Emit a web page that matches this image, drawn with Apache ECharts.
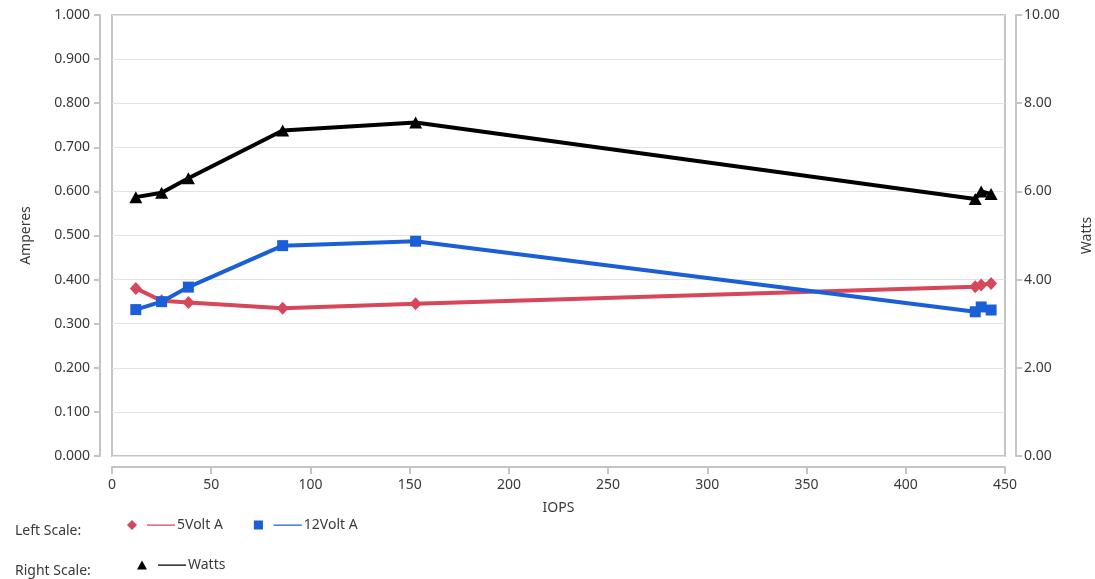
<!DOCTYPE html>
<html>
<head>
<meta charset="utf-8">
<script src="https://cdn.jsdelivr.net/npm/echarts@6/dist/echarts.min.js"></script>
<style>
html,body{margin:0;padding:0;background:#fff;}
#chart{width:1095px;height:579px;}
</style>
</head>
<body>
<div id="chart"></div>
<script>
// IOPS values (shared x)
const iops = [12, 25, 38.5, 86, 153, 435, 438, 443];
const volt5A = [0.380, 0.352, 0.348, 0.335, 0.345, 0.384, 0.388, 0.391];
const volt12A = [0.332, 0.350, 0.383, 0.477, 0.487, 0.327, 0.338, 0.331];
const watts = [5.87, 5.97, 6.30, 7.38, 7.56, 5.83, 6.00, 5.94];

const leftTicks = { min: 0, max: 1, interval: 0.1 };
const rightTicks = { min: 0, max: 10, interval: 2 };
const xTicks = { min: 0, max: 450, interval: 50 };

const pairs = (ys) => iops.map((x, i) => [x, ys[i]]);

const RED = '#d7475a', BLUE = '#1b5fd8', BLACK = '#000000';
const AXIS = '#c4c4c4', GRID = '#e2e2e2', TXT = '#3a3a3a';
const FONT = 'Noto Sans';

const diamondIcon = 'path://M5 0L10 5L5 10L0 5Z M20 4.5L48 4.5L48 5.7L20 5.7Z';
const squareIcon = 'path://M0.5 0.5L9.5 0.5L9.5 9.5L0.5 9.5Z M20 4.5L48 4.5L48 5.7L20 5.7Z';
const triIcon = 'path://M5 0.5L10 9.5L0 9.5Z M21 4.5L49 4.5L49 5.7L21 5.7Z';

const chart = echarts.init(document.getElementById('chart'));
chart.setOption({
  animation: false,
  textStyle: { fontFamily: FONT },
  grid: { left: 112, right: 90, top: 15, bottom: 123, outerBoundsMode: 'none', containLabel: false,
          show: true, borderColor: AXIS, borderWidth: 2, backgroundColor: 'transparent' },
  xAxis: {
    type: 'value', min: xTicks.min, max: xTicks.max, interval: xTicks.interval,
    offset: 11,
    name: 'IOPS', nameLocation: 'middle', nameGap: 34,
    nameTextStyle: { color: TXT, fontSize: 14, fontFamily: FONT },
    axisLine: { show: true, onZero: false, lineStyle: { color: AXIS, width: 2 } },
    axisTick: { show: true, length: 7, lineStyle: { color: AXIS, width: 2 } },
    axisLabel: { color: TXT, fontSize: 14, margin: 11, fontFamily: FONT },
    splitLine: { show: false }
  },
  yAxis: [
    {
      type: 'value', min: leftTicks.min, max: leftTicks.max, interval: leftTicks.interval,
      position: 'left', offset: 12,
      name: 'Amperes', nameLocation: 'middle', nameGap: 67, nameRotate: 90,
      nameTextStyle: { color: TXT, fontSize: 14, fontFamily: FONT },
      axisLine: { show: true, onZero: false, lineStyle: { color: AXIS, width: 2 } },
      axisTick: { show: true, length: 6, lineStyle: { color: AXIS, width: 2 } },
      axisLabel: { color: TXT, fontSize: 14, margin: 10, fontFamily: FONT, formatter: v => v.toFixed(3) },
      splitLine: { show: true, lineStyle: { color: GRID, width: 1.2 } }
    },
    {
      type: 'value', min: rightTicks.min, max: rightTicks.max, interval: rightTicks.interval,
      position: 'right', offset: 11,
      name: 'Watts', nameLocation: 'middle', nameGap: 64, nameRotate: 90,
      nameTextStyle: { color: TXT, fontSize: 14, fontFamily: FONT },
      axisLine: { show: true, onZero: false, lineStyle: { color: AXIS, width: 2 } },
      axisTick: { show: true, length: 6, lineStyle: { color: AXIS, width: 2 } },
      axisLabel: { color: TXT, fontSize: 14, margin: 8, fontFamily: FONT, formatter: v => v.toFixed(2) },
      splitLine: { show: false }
    }
  ],
  legend: [
    {
      left: 127, top: 518, padding: 0, orient: 'horizontal', selectedMode: false,
      itemWidth: 48, itemHeight: 10, itemGap: 31,
      textStyle: { color: TXT, fontSize: 14, fontFamily: FONT, padding: [0, 0, 0, -3] },
      data: [
        { name: '5Volt A', icon: diamondIcon },
        { name: '12Volt A', icon: squareIcon }
      ]
    },
    {
      left: 137, top: 558, padding: 0, orient: 'horizontal', selectedMode: false,
      itemWidth: 49, itemHeight: 10,
      textStyle: { color: TXT, fontSize: 14, fontFamily: FONT, padding: [0, 0, 0, -3] },
      data: [ { name: 'Watts', icon: triIcon } ]
    }
  ],
  graphic: [
    { type: 'text', left: 15, top: 524, style: { text: 'Left Scale:', fill: TXT, font: '14px "Noto Sans"' } },
    { type: 'text', left: 15, top: 564, style: { text: 'Right Scale:', fill: TXT, font: '14px "Noto Sans"' } }
  ],
  series: [
    {
      name: '5Volt A', type: 'line', yAxisIndex: 0, data: pairs(volt5A),
      symbol: 'diamond', symbolSize: [12, 13],
      lineStyle: { color: RED, width: 4 }, itemStyle: { color: RED }, z: 2
    },
    {
      name: '12Volt A', type: 'line', yAxisIndex: 0, data: pairs(volt12A),
      symbol: 'rect', symbolSize: 11,
      lineStyle: { color: BLUE, width: 4 }, itemStyle: { color: BLUE }, z: 3
    },
    {
      name: 'Watts', type: 'line', yAxisIndex: 1, data: pairs(watts),
      symbol: 'triangle', symbolSize: [13, 12],
      lineStyle: { color: BLACK, width: 4 }, itemStyle: { color: BLACK }, z: 4
    }
  ]
});
</script>
</body>
</html>
